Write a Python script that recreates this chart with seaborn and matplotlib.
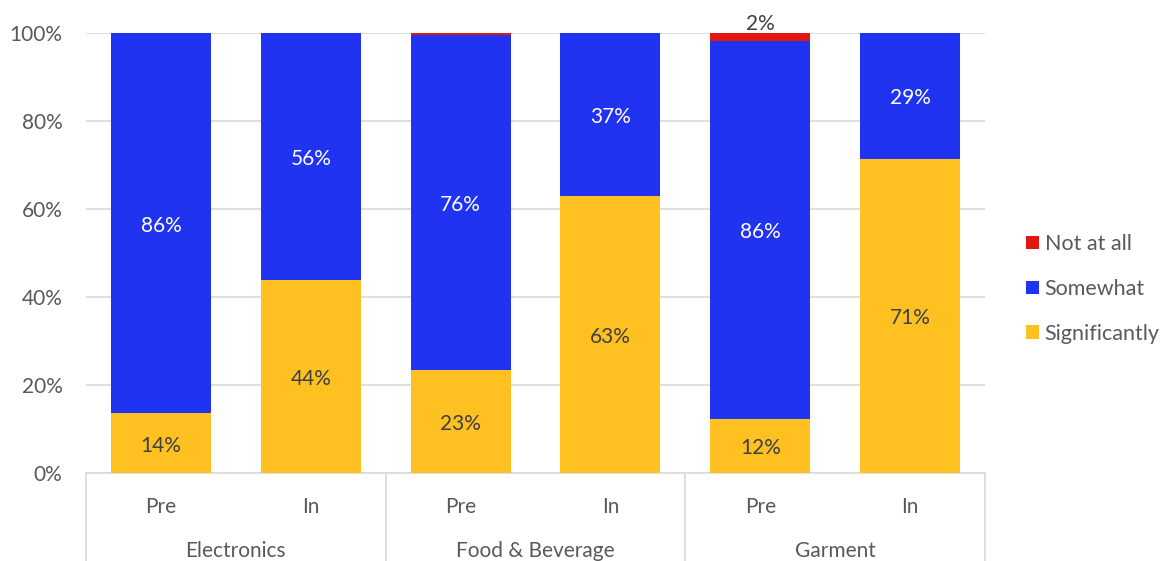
import matplotlib
matplotlib.use("Agg")
import matplotlib.pyplot as plt
import matplotlib.transforms as mtransforms
import seaborn as sns
import pandas as pd
import numpy as np
from matplotlib.lines import Line2D
from matplotlib.patches import Patch

# ---- data ----
sectors = ["Electronics", "Electronics", "Food & Beverage", "Food & Beverage", "Garment", "Garment"]
periods = ["Pre", "In", "Pre", "In", "Pre", "In"]
significantly = [13.6, 43.9, 23.4, 62.9, 12.3, 71.4]
somewhat = [86.4, 56.1, 76.1, 37.1, 85.9, 28.6]
not_at_all = [0.0, 0.0, 0.5, 0.0, 1.8, 0.0]
sector_names = ["Electronics", "Food & Beverage", "Garment"]
series_names = ["Not at all", "Somewhat", "Significantly"]

C_RED = "#E2170F"
C_BLUE = "#1F33F0"
C_YEL = "#FFC022"
TXT = "#404040"
TICK = "#595959"
GRID = "#D9D9D9"

sns.set_theme(style="white")
plt.rcParams["font.family"] = ["Lato", "DejaVu Sans"]
FS = 15

df = pd.DataFrame({
    "key": [f"{s}|{p}" for s, p in zip(sectors, periods)],
    "sig": significantly,
    "some": somewhat,
    "not": not_at_all,
})
df["top_some"] = df["sig"] + df["some"]
df["top_not"] = df["top_some"] + df["not"]
order = list(df["key"])

fig = plt.figure(figsize=(11.66, 5.61), dpi=100)
ax = fig.add_axes([86 / 1166, 1 - 473 / 561, 899 / 1166, 440 / 561])

for col, c in [("top_not", C_RED), ("top_some", C_BLUE), ("sig", C_YEL)]:
    sns.barplot(data=df, x="key", y=col, order=order, color=c, width=0.667,
                ax=ax, saturation=1, edgecolor="none", linewidth=0, zorder=3)

ax.set_xlim(-0.5, 5.5)
ax.set_ylim(0, 100)
ax.set_yticks([0, 20, 40, 60, 80, 100])
ax.set_yticklabels([f"{v}%" for v in [0, 20, 40, 60, 80, 100]], fontsize=FS, color=TICK)
ax.tick_params(axis="y", length=0, pad=17)
ax.yaxis.grid(True, color=GRID, linewidth=1.2, zorder=0)
ax.set_axisbelow(True)
for s in ["left", "right", "top"]:
    ax.spines[s].set_visible(False)
ax.spines["bottom"].set_color(GRID)
ax.spines["bottom"].set_linewidth(1.2)
ax.set_xlabel("")
ax.set_ylabel("")
ax.set_xticks(range(6))
ax.set_xticklabels(periods, fontsize=FS, color=TICK)
ax.tick_params(axis="x", length=0, pad=17)

# category labels & separators
trans = ax.get_xaxis_transform()
for i, name in enumerate(sector_names):
    ax.text(2 * i + 0.5, -(551 - 473) / 440, name, transform=trans, ha="center",
            va="center", fontsize=FS, color=TICK)
for xb in [-0.5, 1.5, 3.5, 5.5]:
    ax.add_line(Line2D([xb, xb], [0, -0.25], transform=trans, color=GRID,
                       linewidth=1.2, clip_on=False))

# value labels (shifted down a couple of pixels)
shift = mtransforms.ScaledTranslation(0, -2.5 / 100, fig.dpi_scale_trans)
dtrans = ax.transData + shift
for i, r in df.iterrows():
    ax.text(i, r["sig"] / 2, f"{round(r['sig'])}%", ha="center", va="center",
            fontsize=FS, color=TXT, zorder=5, transform=dtrans)
    ax.text(i, r["sig"] + r["some"] / 2, f"{round(r['some'])}%", ha="center",
            va="center", fontsize=FS, color="white", zorder=5, transform=dtrans)
    if r["not"] >= 1.5:
        ax.text(i, 102.5, f"{round(r['not'])}%", ha="center", va="center",
                fontsize=FS, color=TXT, zorder=5, clip_on=False, transform=dtrans)

handles = [Patch(facecolor=c, edgecolor="none") for c in [C_RED, C_BLUE, C_YEL]]
fig.legend(handles, series_names, loc="center left",
           bbox_to_anchor=(1017 / 1166, 1 - 289 / 561), frameon=False,
           fontsize=15.5, labelcolor=TICK, handlelength=0.6, handleheight=0.6,
           handletextpad=0.28, labelspacing=1.15, borderaxespad=0)

fig.savefig("out.png", dpi=100)
